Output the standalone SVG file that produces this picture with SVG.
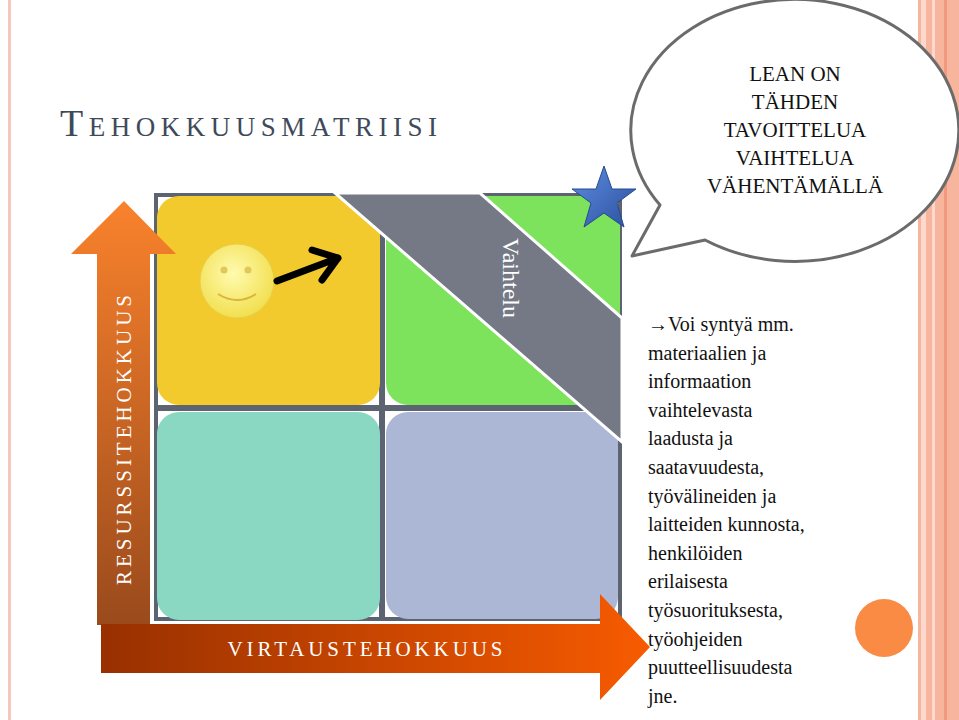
<svg xmlns="http://www.w3.org/2000/svg" width="959" height="720" viewBox="0 0 959 720" font-family="Liberation Serif, Times New Roman, serif">
<style>
.r{font-size:20px;fill:#111}
</style>
<defs>
<linearGradient id="gu" x1="0" y1="0" x2="0" y2="1"><stop offset="0" stop-color="#f9822c"/><stop offset="1" stop-color="#9a4a1c"/></linearGradient>
<linearGradient id="gr" x1="0" y1="0" x2="1" y2="0"><stop offset="0" stop-color="#983000"/><stop offset="1" stop-color="#f75b00"/></linearGradient>
<radialGradient id="sm" cx="0.45" cy="0.4" r="0.6"><stop offset="0" stop-color="#fffbb0"/><stop offset="1" stop-color="#f2df50"/></radialGradient>
<linearGradient id="st" x1="0" y1="0" x2="1" y2="1"><stop offset="0" stop-color="#5f8ee0"/><stop offset="1" stop-color="#2b4f9e"/></linearGradient>
</defs>
<rect width="959" height="720" fill="#fff"/>
<rect x="8" y="0" width="3" height="720" fill="#f5c7bd"/>
<rect x="918" y="0" width="41" height="720" fill="#f7b59e"/>
<rect x="921" y="0" width="5" height="720" fill="#fcd9cc"/>
<rect x="932" y="0" width="3" height="720" fill="#fcd9cc"/>
<rect x="944" y="0" width="3" height="720" fill="#f29a80"/>
<text x="60" y="136" fill="#3e4a5a" font-size="27" textLength="377"><tspan font-size="38">T</tspan>EHOKKUUSMATRIISI</text>
<g id="matrix">
<rect x="154" y="193" width="468" height="428" fill="#5c6472"/>
<rect x="158" y="197" width="460" height="420" fill="#fff"/>
<rect x="154" y="405" width="468" height="6" fill="#5c6472"/>
<rect x="379" y="193" width="6" height="428" fill="#5c6472"/>
<rect x="157" y="196" width="223" height="209" rx="22" fill="#f3ca2d"/>
<rect x="386" y="196" width="234" height="209" rx="22" fill="#7de35c"/>
<rect x="157" y="412" width="223" height="208" rx="22" fill="#8ad8c1"/>
<rect x="386" y="412" width="232" height="207" rx="22" fill="#abb7d4"/>
<polygon points="335,193 480,193 622,318 622,442" fill="#747985" stroke="#fff" stroke-width="3"/>
<text transform="translate(503,238) rotate(90)" font-size="24" fill="#fff">Vaihtelu</text>
</g>
<g id="axes">
<polygon points="124,201 176,254 150,254 150,625 97,625 97,254 71,254" fill="url(#gu)"/>
<text transform="translate(131,440) rotate(-90)" font-size="21" fill="#fff" text-anchor="middle" textLength="290">RESURSSITEHOKKUUS</text>
<polygon points="101,624 600,624 600,594 650,647 600,700 600,673 101,673" fill="url(#gr)"/>
<text x="365" y="656" font-size="21" fill="#fff" text-anchor="middle" textLength="275">VIRTAUSTEHOKKUUS</text>
</g>
<g id="smiley">
<circle cx="237" cy="281" r="37" fill="url(#sm)" stroke="#e7cf4a"/>
<circle cx="224" cy="270" r="3.5" fill="#e0c95a"/>
<circle cx="248" cy="270" r="3.5" fill="#e0c95a"/>
<path d="M218,294 Q237,306 256,294" fill="none" stroke="#d8b83a" stroke-width="2"/>
</g>
<g id="connectors">
<path d="M277,281 L338,258 M312,250 L338,258 L322,280" fill="none" stroke="#000" stroke-width="7" stroke-linecap="round" stroke-linejoin="round"/>
</g>
<g id="bubble">
<path d="M632,256 L660,205 A164,131 0 1 1 705,240 Z" fill="#fff" stroke="#6b6b6b" stroke-width="3" stroke-linejoin="round"/>
<text font-size="21" fill="#111" text-anchor="middle"><tspan x="795" y="81">LEAN ON</tspan><tspan x="795" y="109">TÄHDEN</tspan><tspan x="795" y="137">TAVOITTELUA</tspan><tspan x="795" y="165">VAIHTELUA</tspan><tspan x="795" y="193">VÄHENTÄMÄLLÄ</tspan></text>
</g>
<g id="star">
<polygon points="604,166 612,189 636,189 617,203 624,227 604,213 584,227 591,203 572,189 596,189" fill="url(#st)" stroke="#244a92"/>
</g>
<text class="r"><tspan x="648" y="331">→Voi syntyä mm.</tspan><tspan x="648" y="359.6">materiaalien ja</tspan><tspan x="648" y="388.2">informaation</tspan><tspan x="648" y="416.8">vaihtelevasta</tspan><tspan x="648" y="445.4">laadusta ja</tspan><tspan x="648" y="474">saatavuudesta,</tspan><tspan x="648" y="502.6">työvälineiden ja</tspan><tspan x="648" y="531.2">laitteiden kunnosta,</tspan><tspan x="648" y="559.8">henkilöiden</tspan><tspan x="648" y="588.4">erilaisesta</tspan><tspan x="648" y="617">työsuorituksesta,</tspan><tspan x="648" y="645.6">työohjeiden</tspan><tspan x="648" y="674.2">puutteellisuudesta</tspan><tspan x="648" y="702.8">jne.</tspan></text>
<circle cx="884" cy="628" r="29" fill="#f98b45"/>
</svg>
